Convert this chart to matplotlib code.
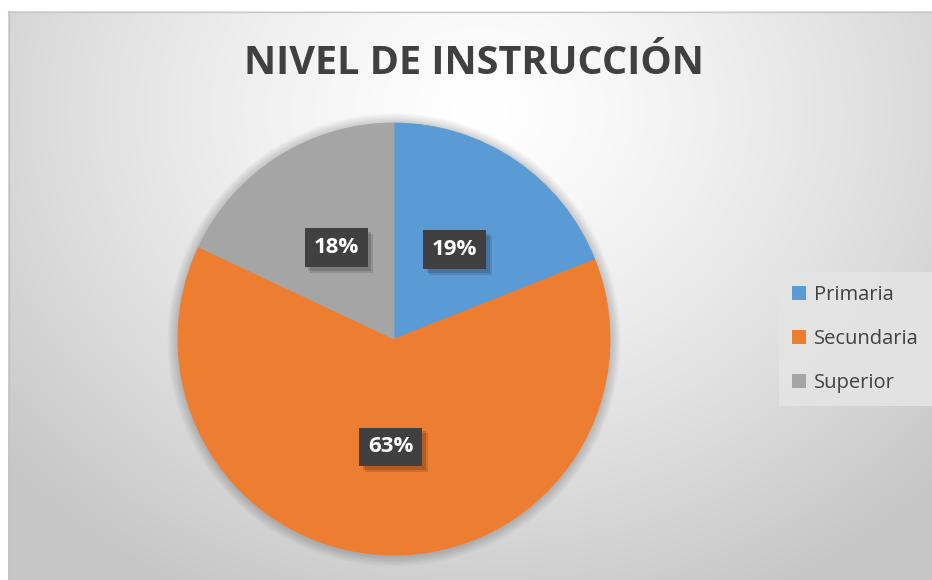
import numpy as np
import matplotlib.pyplot as plt
from matplotlib.patches import Patch, Circle
import matplotlib.patheffects as pe

# Datos del gráfico
categorias = ["Primaria", "Secundaria", "Superior"]
porcentajes = [19, 63, 18]
colores = ["#5B9BD5", "#ED7D31", "#A5A5A5"]
titulo = "NIVEL DE INSTRUCCIÓN"

W, H = 932, 580
fig = plt.figure(figsize=(W / 100, H / 100), dpi=100)
fig.patch.set_facecolor("white")

# Fondo con degradado radial (en píxeles)
bg = fig.add_axes([0, 0, 1, 1])
bg.set_xlim(0, W)
bg.set_ylim(H, 0)
bg.axis("off")
xx, yy = np.meshgrid(np.arange(8, W), np.arange(11, H))
d = np.sqrt((xx - 480) ** 2 + ((yy - 110) * 1.15) ** 2)
g = 1.0 - 0.22 * np.clip(d / 620, 0, 1) ** 1.3
img = np.dstack([g, g, g])
bg.imshow(img, extent=(8, W, H, 11), interpolation="bilinear")
bg.plot([8, W], [11.5, 11.5], color="#c8c8c8", lw=1)
bg.plot([8.5, 8.5], [11, H], color="#c4c4c4", lw=1)

# Título
bg.text(474, 64, titulo, ha="center", va="center", fontsize=28.5,
        fontweight="bold", color="#404040", family="Open Sans")

# Pastel
cx, cy, r = 394, 339, 216
ax = fig.add_axes([(cx - r) / W, (H - cy - r) / H, 2 * r / W, 2 * r / H])
ax.set_xlim(-1, 1)
ax.set_ylim(-1, 1)
# sombra suave alrededor del pastel
for k in range(8):
    ax.add_patch(Circle((0, -0.004), 1 + 0.006 * (k + 1), facecolor="black",
                        edgecolor="none", alpha=0.025, clip_on=False, zorder=0))
wedges, textos, autotextos = ax.pie(
    porcentajes, colors=colores, startangle=90, counterclock=False,
    autopct="%1.0f%%", pctdistance=0.5, radius=1,
    textprops=dict(color="white", fontsize=16, fontweight="bold", family="Open Sans"),
    wedgeprops=dict(linewidth=0.6))
for w, c in zip(wedges, colores):
    w.set_edgecolor(c)
    w.set_zorder(2)
ax.set_xlim(-1, 1)
ax.set_ylim(-1, 1)
ax.set_aspect("auto")

for t in autotextos:
    t.set_zorder(5)
    t.set_bbox(dict(boxstyle="square,pad=0.4", facecolor="#404040", edgecolor="none"))
    t.get_bbox_patch().set_path_effects(
        [pe.SimplePatchShadow(offset=(4, -4), shadow_rgbFace="black", alpha=0.12),
         pe.SimplePatchShadow(offset=(2.5, -2.5), shadow_rgbFace="black", alpha=0.15),
         pe.Normal()])

# Leyenda
handles = [Patch(facecolor=c, edgecolor="none") for c in colores]
leg = fig.legend(handles, categorias, loc="center left",
                 bbox_to_anchor=(779 / W, (H - 339) / H),
                 frameon=True, fancybox=False, borderaxespad=0,
                 handlelength=0.7, handleheight=0.7, handletextpad=0.4,
                 labelspacing=1.2, borderpad=0.65,
                 prop=dict(family="Open Sans", size=14.5))
leg.get_frame().set_facecolor("#e4e4e4")
leg.get_frame().set_edgecolor("none")
leg.get_frame().set_alpha(0.9)
for t in leg.get_texts():
    t.set_color("#404040")

fig.savefig("out.png", dpi=100)
